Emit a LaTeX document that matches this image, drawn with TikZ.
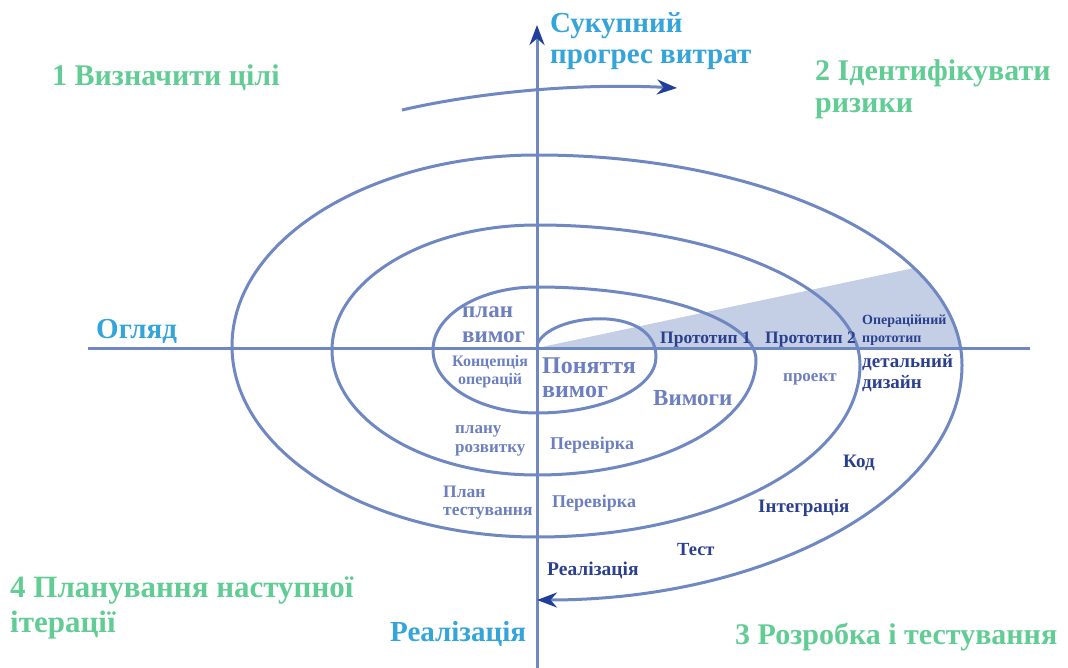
\documentclass[tikz,border=0pt]{standalone}
\usepackage{fontspec}
\setmainfont{Liberation Serif}
\usetikzlibrary{calc,
arrows.meta,
positioning}

\definecolor{spiralblue}{HTML}{6F88C2}
\definecolor{tipblue}{HTML}{1F3F9A}
\definecolor{axiscyan}{HTML}{35A4D8}
\definecolor{phasegreen}{HTML}{62CC95}
\definecolor{navytext}{HTML}{2B3F8F}
\definecolor{greytext}{HTML}{6C7FBF}
\definecolor{wedgefill}{HTML}{C4CFE5}

\begin{document}
\begin{tikzpicture} [x = 1pt, y = 1pt,
  >={Stealth[length = 20pt, width = 15pt, color = tipblue]},
  spiral line/.style={draw = spiralblue, line width = 3pt},
  phase/.style={anchor = base west, inner sep = 0pt, text = phasegreen,
      font = \bfseries\fontsize{30}{32}\selectfont, align = left},
  axis label/.style={anchor = base west, inner sep = 0pt, text = axiscyan,
      font = \bfseries\fontsize{29}{31}\selectfont, align = left},
  dark label/.style={anchor = base west, inner sep = 0pt, text = navytext,
      font = \bfseries\fontsize{19}{21}\selectfont, align = left},
  light label/.style={anchor = base west, inner sep = 0pt, text = greytext,
      font = \bfseries\fontsize{18}{20}\selectfont, align = left}]

  \useasboundingbox (0, 0) rectangle (1068, -668);

  \coordinate (origin) at (537, -348);
  \coordinate (xleft) at (88, -348);
  \coordinate (xright) at (1030, -348);
  \coordinate (ybottom) at (537, -668);
  \coordinate (ytop) at (537, -25);

  % shaded wedge of the prototypes
  \fill [wedgefill] (origin) -- (914, -268)
  arc [start angle = 27.5, end angle = 4.6, x radius = 425, y radius = 210]
  -- cycle;

  % axes
  \draw [spiral line] (xleft) -- (xright);
  \draw [spiral line, ->] (ybottom) -- (ytop);

  % the spiral, half loop by half loop
  \draw [spiral line, ->] (537, -345) .. controls (548, -313) and (656, -303) .. (656, -357)
  arc [start angle = 0, end angle = -90, x radius = 119, y radius = 56]
  arc [start angle = 270, end angle = 90, x radius = 104, y radius = 63]
  arc [start angle = 90, end angle = 0, x radius = 219, y radius = 73]
  arc [start angle = 0, end angle = -90, x radius = 219, y radius = 115]
  arc [start angle = 270, end angle = 90, x radius = 205, y radius = 125]
  arc [start angle = 90, end angle = 0, x radius = 323, y radius = 140]
  arc [start angle = 0, end angle = -90, x radius = 323, y radius = 172]
  arc [start angle = 270, end angle = 90, x radius = 305, y radius = 191]
  arc [start angle = 90, end angle = 0, x radius = 425, y radius = 210]
  arc [start angle = 0, end angle = -90, x radius = 425, y radius = 235];

  % turning arrow on top
  \coordinate (turnstart) at (402, -110);
  \coordinate (turnend) at (677, -88);
  \draw [spiral line, ->] (turnstart) .. controls (480, -92) and (580, -83) .. (turnend);

  % axis titles (base = last line)
  \node [axis label] (cost) at (550, -64) {Сукупний\\прогрес витрат};
  \node [axis label] (review) at (96, -338) {Огляд};
  \node [axis label] (release) at (390, -641) {Реалізація};

  % the four phases
  \node [phase] (goals) at (52, -86) {1 Визначити цілі};
  \node [phase] (risks) at (815, -113) {2 Ідентифікувати\\ризики};
  \node [phase] (devtest) at (735, -644) {3 Розробка і тестування};
  \node [phase, font = \bfseries\fontsize{31}{35}\selectfont] (nextiter) at (10, -632) {4 Планування наступної\\ітерації};

  % inside the spiral
  \node [light label, font = \bfseries\fontsize{23}{25}\selectfont] (reqplan) at (462, -342) {план\\вимог};
  \node [light label, align = center, font = \bfseries\fontsize{16}{18}\selectfont] (concept) at (452, -384) {Концепція\\операцій};
  \node [light label, font = \bfseries\fontsize{24}{24}\selectfont] (reqidea) at (542, -397) {Поняття\\вимог};
  \node [dark label, font = \bfseries\fontsize{17.5}{20}\selectfont] (proto1) at (660, -343) {Прототип 1};
  \node [dark label, font = \bfseries\fontsize{17.5}{20}\selectfont] (proto2) at (765, -343) {Прототип 2};
  \node [dark label, font = \bfseries\fontsize{14}{18}\selectfont] (opproto) at (862, -342) {Операційний\\прототип};
  \node [dark label, font = \bfseries\fontsize{19}{21}\selectfont] (detail) at (862, -388) {детальний\\дизайн};
  \node [light label, font = \bfseries\fontsize{17}{20}\selectfont] (design) at (783, -381) {проект};
  \node [light label, font = \bfseries\fontsize{23}{24}\selectfont] (reqs) at (653, -405) {Вимоги};
  \node [light label, font = \bfseries\fontsize{17}{19}\selectfont] (devplan) at (455, -452) {плану\\розвитку};
  \node [light label] (check1) at (550, -449) {Перевірка};
  \node [light label, font = \bfseries\fontsize{17.5}{18}\selectfont] (testplan) at (443, -515) {План\\тестування};
  \node [light label] (check2) at (552, -507) {Перевірка};
  \node [dark label] (code) at (843, -467) {Код};
  \node [dark label] (integr) at (758, -512) {Інтеграція};
  \node [dark label, font = \bfseries\fontsize{18.5}{20}\selectfont] (test) at (677, -555) {Тест};
  \node [dark label, font = \bfseries\fontsize{19.5}{21}\selectfont] (impl) at (547, -575) {Реалізація};

\end{tikzpicture}
\end{document}
